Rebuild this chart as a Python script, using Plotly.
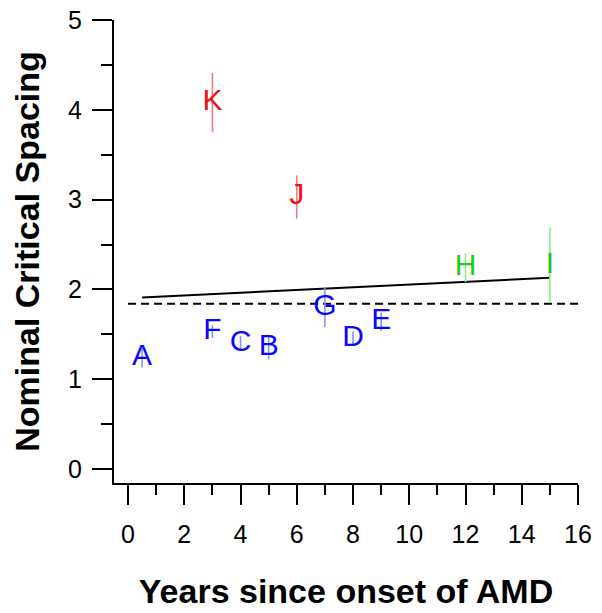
import plotly.graph_objects as go

# Data
labels = ["A", "B", "C", "D", "E", "F", "G", "H", "I", "J", "K"]
years = [0.5, 5, 4, 8, 9, 3, 7, 12, 15, 6, 3]
spacing = [1.24, 1.35, 1.40, 1.45, 1.64, 1.53, 1.80, 2.24, 2.27, 3.03, 4.08]
errors = [0.11, 0.13, 0.08, 0.08, 0.10, 0.07, 0.22, 0.16, 0.42, 0.24, 0.33]
groups = ["blue"] * 7 + ["green"] * 2 + ["red"] * 2

fit_x = [0.5, 15]
fit_y = [1.91, 2.13]
ref_x = [0, 16]
ref_y = [1.84, 1.84]

x_ticks = list(range(0, 17, 2))
y_ticks = list(range(0, 6))

text_colors = {"blue": "#0808ff", "green": "#1ccc1c", "red": "#ee1010"}
bar_colors = {"blue": "#8096ff", "green": "#8eea8e", "red": "#f27d8a"}

FONT = "Arial, Liberation Sans, Helvetica, sans-serif"

fig = go.Figure()

fig.add_trace(go.Scatter(x=ref_x, y=ref_y, mode="lines",
                         line=dict(color="black", width=1.8, dash="8px,5px"),
                         showlegend=False, hoverinfo="skip"))
fig.add_trace(go.Scatter(x=fit_x, y=fit_y, mode="lines",
                         line=dict(color="black", width=2),
                         showlegend=False, hoverinfo="skip"))

for g in ["blue", "green", "red"]:
    idx = [i for i, gg in enumerate(groups) if gg == g]
    fig.add_trace(go.Scatter(
        x=[years[i] for i in idx],
        y=[spacing[i] for i in idx],
        text=[labels[i] for i in idx],
        mode="text",
        textposition="middle center",
        textfont=dict(family=FONT, size=30, color=text_colors[g]),
        error_y=dict(type="data", array=[errors[i] for i in idx],
                     color=bar_colors[g], thickness=1.6, width=0),
        showlegend=False,
    ))

# page body has an 8px margin, so the figure is sized to fit the window
fig.update_layout(
    width=594, height=605,
    margin=dict(l=106, r=24, t=12, b=130),
    paper_bgcolor="white", plot_bgcolor="white",
    font=dict(family=FONT, color="black"),
)

fig.update_xaxes(
    automargin=False, ticklabeloverflow="allow",
    range=[-0.5, 16], tickvals=x_ticks, ticktext=[str(v) for v in x_ticks],
    showgrid=False, zeroline=False, showline=True, linecolor="black", linewidth=2,
    ticks="outside", ticklen=20, tickwidth=2, tickcolor="black",
    minor=dict(dtick=1, tick0=0, ticks="outside", ticklen=10, tickwidth=2, tickcolor="black", showgrid=False),
    tickfont=dict(size=25, family=FONT), ticklabelstandoff=8,
    title=dict(text="<b>Years since onset of AMD</b>", font=dict(size=34, family=FONT), standoff=32),
)
fig.update_yaxes(
    automargin=False, ticklabeloverflow="allow",
    range=[-0.156, 5], tickvals=y_ticks, ticktext=[str(v) for v in y_ticks],
    showgrid=False, zeroline=False, showline=True, linecolor="black", linewidth=2,
    ticks="outside", ticklen=20, tickwidth=2, tickcolor="black",
    minor=dict(dtick=0.5, tick0=0, ticks="outside", ticklen=11, tickwidth=2, tickcolor="black", showgrid=False),
    tickfont=dict(size=25, family=FONT), ticklabelstandoff=5,
    title=dict(text="<b>Nominal Critical Spacing</b>", font=dict(size=34, family=FONT), standoff=25),
)

fig.write_html("out.html")
